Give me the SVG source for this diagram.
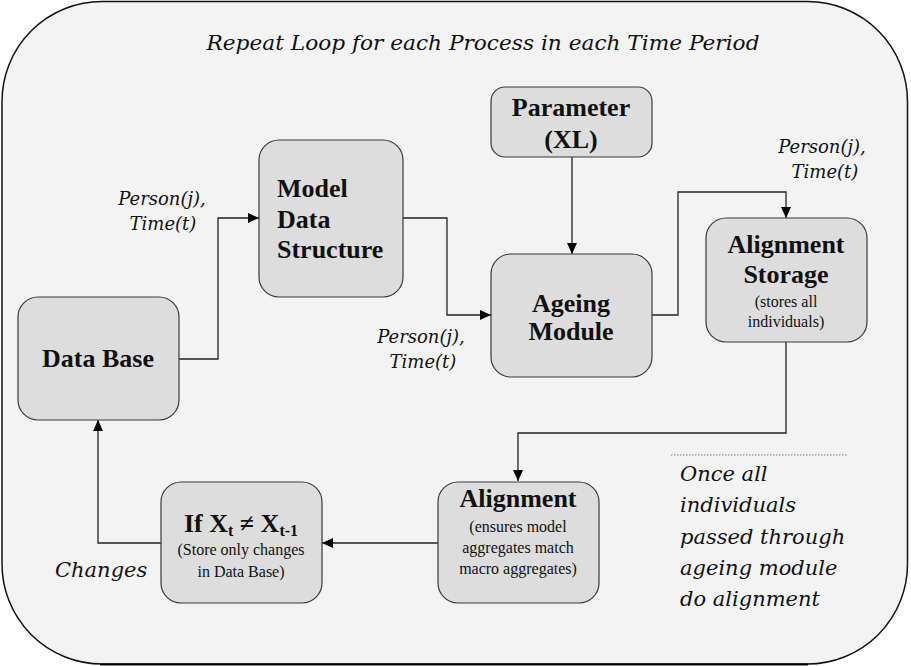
<svg xmlns="http://www.w3.org/2000/svg" width="911" height="666" viewBox="0 0 911 666">
<defs>
<style>
.box{fill:#dddddd;stroke:#3a3a3a;stroke-width:1.2}
.bt{font-family:"Liberation Serif","Times New Roman",serif;font-weight:bold;font-size:26px;fill:#111;text-anchor:middle}
.bl{font-family:"Liberation Serif","Times New Roman",serif;font-weight:bold;font-size:26px;fill:#111;text-anchor:start}
.st{font-family:"Liberation Serif","Times New Roman",serif;font-size:16px;fill:#111;text-anchor:middle}
.it{font-family:"DejaVu Serif",serif;font-style:italic;fill:#111}
.lbl{font-size:18px;text-anchor:middle}
.con{fill:none;stroke:#222;stroke-width:1.3}
</style>
<marker id="ah" viewBox="0 0 11 10" refX="11" refY="5" markerWidth="11" markerHeight="10" markerUnits="userSpaceOnUse" orient="auto">
<path d="M0,0 L11,5 L0,10 Z" fill="#000"/>
</marker>
</defs>
<rect x="0" y="0" width="911" height="666" fill="#ffffff"/>
<rect id="frame" x="2" y="1.5" width="905.5" height="662.5" rx="100" ry="100" fill="#f3f3f3" stroke="#111" stroke-width="1.5"/>
<line x1="100" y1="664.5" x2="808" y2="664.5" stroke="#000" stroke-width="2"/>
<text class="it" x="483" y="50" font-size="21" text-anchor="middle" textLength="553" lengthAdjust="spacingAndGlyphs">Repeat Loop for each Process in each Time Period</text>

<g id="connectors">
<polyline class="con" points="179,359 218,359 218,218 259,218" marker-end="url(#ah)"/>
<polyline class="con" points="403,218 447,218 447,315 491,315" marker-end="url(#ah)"/>
<polyline class="con" points="572,157 572,254" marker-end="url(#ah)"/>
<polyline class="con" points="652,315 678,315 678,192 786,192 786,218" marker-end="url(#ah)"/>
<polyline class="con" points="786,342 786,433 518,433 518,481" marker-end="url(#ah)"/>
<polyline class="con" points="438,543 322,543" marker-end="url(#ah)"/>
<polyline class="con" points="161,543 98,543 98,420" marker-end="url(#ah)"/>
<line x1="671" y1="455" x2="848" y2="455" stroke="#777" stroke-width="1" stroke-dasharray="1.5,1.5"/>
</g>

<g id="labels">
<text class="it lbl" x="162" y="205">Person(j),</text>
<text class="it lbl" x="163" y="230">Time(t)</text>
<text class="it lbl" x="421" y="343">Person(j),</text>
<text class="it lbl" x="423" y="368">Time(t)</text>
<text class="it lbl" x="822" y="153">Person(j),</text>
<text class="it lbl" x="825" y="178">Time(t)</text>
<text class="it" x="55" y="577" font-size="21">Changes</text>
<g class="it" font-size="21">
<text x="680" y="481">Once all</text>
<text x="680" y="512">individuals</text>
<text x="680" y="544">passed through</text>
<text x="680" y="575">ageing module</text>
<text x="680" y="606">do alignment</text>
</g>
</g>

<g id="database">
<rect class="box" x="18" y="297" width="161" height="123" rx="20"/>
<text class="bt" x="98" y="367">Data Base</text>
</g>
<g id="model">
<rect class="box" x="259" y="140" width="144" height="157" rx="20"/>
<text class="bl" x="277" y="197">Model</text>
<text class="bl" x="277" y="228">Data</text>
<text class="bl" x="277" y="258">Structure</text>
</g>
<g id="parameter">
<rect class="box" x="491" y="87" width="161" height="70" rx="14"/>
<text class="bt" x="571" y="116">Parameter</text>
<text class="bt" x="571" y="148">(XL)</text>
</g>
<g id="ageing">
<rect class="box" x="491" y="254" width="161" height="123" rx="20"/>
<text class="bt" x="571" y="312">Ageing</text>
<text class="bt" x="571" y="340">Module</text>
</g>
<g id="storage">
<rect class="box" x="706" y="218" width="161" height="124" rx="20"/>
<text class="bt" x="786" y="253">Alignment</text>
<text class="bt" x="786" y="283">Storage</text>
<text class="st" x="786" y="307">(stores all</text>
<text class="st" x="786" y="327">individuals)</text>
</g>
<g id="alignment">
<rect class="box" x="438" y="482" width="161" height="121" rx="20"/>
<text class="bt" x="518" y="507">Alignment</text>
<text class="st" x="518" y="532">(ensures model</text>
<text class="st" x="518" y="553">aggregates match</text>
<text class="st" x="518" y="574">macro aggregates)</text>
</g>
<g id="ifchange">
<rect class="box" x="161" y="482" width="161" height="121" rx="20"/>
<text class="bt" x="241" y="532">If X<tspan font-size="16" dy="4">t</tspan><tspan dy="-4"> ≠ X</tspan><tspan font-size="16" dy="4">t-1</tspan></text>
<text class="st" x="241" y="555">(Store only changes</text>
<text class="st" x="241" y="577">in Data Base)</text>
</g>
</svg>
